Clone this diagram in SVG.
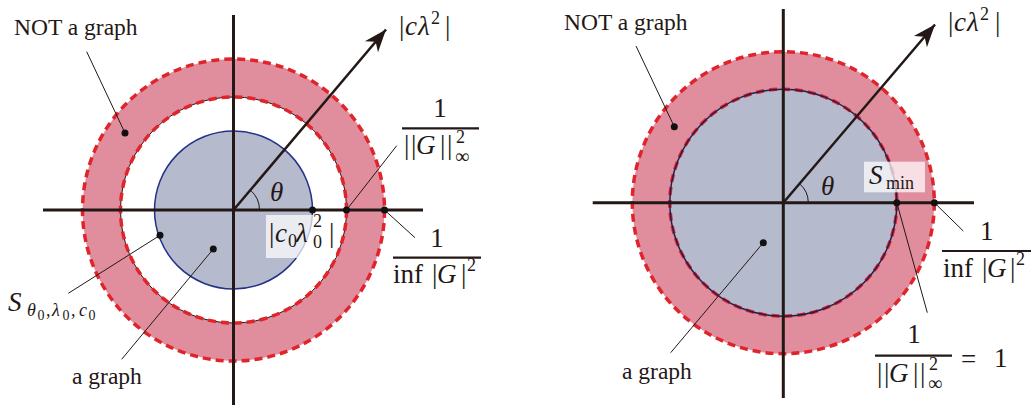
<svg xmlns="http://www.w3.org/2000/svg" width="1034" height="405" viewBox="0 0 1034 405">
<style>
.pink{fill:#e08d9d}
.blue{fill:#b5bacd}
.dash{fill:none;stroke:#e0242b;stroke-width:3.5;stroke-dasharray:8 5}
.axis{stroke:#231815;stroke-width:3}
.lead{stroke:#231815;stroke-width:1;fill:none}
.arrow{stroke:#231815;stroke-width:2.5;fill:none}
.dot{fill:#111}
.bar{stroke:#231815;stroke-width:2.2}
.box{fill:#ffffff;fill-opacity:0.72}
text{fill:#231815}
.lbl{font-size:23.5px}
.m{font-size:27px}
.i{font-style:italic}
.s{font-size:18px}
</style>
<defs>
<marker id="ah" markerUnits="userSpaceOnUse" markerWidth="30" markerHeight="30" viewBox="-24 -12 28 24" refX="0" refY="0" orient="auto">
<path d="M0,0 L-21,-8 L-15,0 L-21,8 Z" fill="#231815"/>
</marker>
</defs>

<!-- LEFT PANEL -->
<g id="left-regions">
<circle cx="233.5" cy="210" r="151" class="pink"/>
<circle cx="233.5" cy="210" r="113" fill="#ffffff" stroke="#231815" stroke-width="1"/>
<circle cx="233.5" cy="210" r="151" class="dash"/>
<circle cx="233.5" cy="210" r="113" class="dash"/>
<circle id="left-graph-disk" cx="233.5" cy="210" r="79" class="blue" stroke="#23318a" stroke-width="1.5"/>
</g>
<rect x="266" y="215" width="70" height="43" class="box"/>
<g id="left-axes">
<line x1="233.5" y1="15" x2="233.5" y2="405" class="axis"/>
<line x1="43" y1="210" x2="423" y2="210" class="axis"/>
<line x1="233.5" y1="210" x2="386" y2="29.5" class="arrow" marker-end="url(#ah)"/>
<path d="M259.5,210 A26,26 0 0 0 250.3,190.1" class="lead" stroke-width="1.5"/>
</g>
<g id="left-connectors">
<line x1="86.7" y1="51.7" x2="125" y2="133" class="lead"/>
<line x1="68.3" y1="293.3" x2="160" y2="235.3" class="lead"/>
<line x1="121.7" y1="359.3" x2="213.3" y2="249" class="lead"/>
<line x1="396.7" y1="145.7" x2="346.5" y2="210" class="lead"/>
<line x1="384.5" y1="210" x2="415" y2="237.7" class="lead"/>
</g>
<g id="left-dots">
<circle cx="125" cy="133" r="3.5" class="dot"/>
<circle cx="160" cy="235.3" r="3.5" class="dot"/>
<circle cx="213.3" cy="249" r="3.5" class="dot"/>
<circle cx="312.5" cy="210" r="3.5" class="dot"/>
<circle cx="346.5" cy="210" r="3.5" class="dot"/>
<circle cx="384.5" cy="210" r="3.5" class="dot"/>
</g>
<g font-family="'Liberation Serif', 'DejaVu Serif', serif">
<g id="left-labels">
<text class="lbl" x="14" y="35">NOT a graph</text>
<text class="lbl" x="72" y="384">a graph</text>
<text class="m"><tspan x="399" y="35">|</tspan><tspan class="i" x="405" y="35">c</tspan><tspan class="i" x="418" y="35">λ</tspan><tspan class="s" x="431" y="24">2</tspan><tspan x="445" y="35">|</tspan></text>
<text class="m i" x="270" y="201">θ</text>
<text class="m"><tspan x="269" y="242">|</tspan><tspan class="i" x="275" y="242">c</tspan><tspan class="s" x="288" y="247">0</tspan><tspan class="i" x="296" y="242">λ</tspan><tspan class="s" x="313" y="227">2</tspan><tspan class="s" x="313" y="248">0</tspan><tspan x="329" y="242">|</tspan></text>
<text class="m"><tspan class="i" x="8" y="311">S</tspan><tspan class="s i" x="27" y="316">θ</tspan><tspan font-size="14" x="37.5" y="320">0</tspan><tspan class="s" x="46" y="316">,</tspan><tspan class="s i" x="52" y="316">λ</tspan><tspan font-size="14" x="62.5" y="320">0</tspan><tspan class="s" x="71" y="316">,</tspan><tspan class="s i" x="79" y="316">c</tspan><tspan font-size="14" x="88.5" y="320">0</tspan></text>
<text class="m" x="440" y="117" text-anchor="middle">1</text>
<line x1="402" y1="128.3" x2="479" y2="128.3" class="bar"/>
<text class="m"><tspan x="404" y="154">|</tspan><tspan x="411" y="154">|</tspan><tspan class="i" x="416" y="154">G</tspan><tspan x="440" y="154">|</tspan><tspan x="447" y="154">|</tspan><tspan class="s" x="456" y="143">2</tspan><tspan font-size="20" x="455" y="163">∞</tspan></text>
<text class="m" x="437" y="246.5" text-anchor="middle">1</text>
<line x1="393" y1="257.7" x2="481" y2="257.7" class="bar"/>
<text class="m"><tspan x="393" y="283">inf</tspan><tspan x="432" y="283">|</tspan><tspan class="i" x="437" y="283">G</tspan><tspan x="461" y="283">|</tspan><tspan class="s" x="467" y="271">2</tspan></text>
</g>
</g>

<!-- RIGHT PANEL -->
<g id="right-regions">
<circle cx="783.3" cy="202.7" r="151" class="pink"/>
<circle cx="783.3" cy="202.7" r="151" class="dash"/>
<circle id="right-graph-disk" cx="783.3" cy="202.7" r="113.5" class="blue"/>
<circle cx="783.3" cy="202.7" r="113.5" class="dash"/>
<circle cx="783.3" cy="202.7" r="113.5" fill="none" stroke="#1c2150" stroke-width="1.5"/>
</g>
<rect x="864" y="161.7" width="61" height="30.6" class="box"/>
<g id="right-axes">
<line x1="783.3" y1="9" x2="783.3" y2="398" class="axis"/>
<line x1="592.7" y1="202.7" x2="974" y2="202.7" class="axis"/>
<line x1="783.3" y1="202.7" x2="935" y2="24.5" class="arrow" marker-end="url(#ah)"/>
<path d="M808.3,202.7 A25,25 0 0 0 799.4,183.6" class="lead" stroke-width="1.5"/>
</g>
<g id="right-connectors">
<line x1="636" y1="46" x2="674.3" y2="126.7" class="lead"/>
<line x1="670.7" y1="352.7" x2="763.3" y2="242.7" class="lead"/>
<line x1="934.3" y1="202.7" x2="963.3" y2="231" class="lead"/>
<line x1="896.8" y1="202.7" x2="927.3" y2="312.7" class="lead"/>
</g>
<g id="right-dots">
<circle cx="674.3" cy="126.7" r="3.5" class="dot"/>
<circle cx="763.3" cy="242.7" r="3.5" class="dot"/>
<circle cx="896.8" cy="202.7" r="3.5" class="dot"/>
<circle cx="934.3" cy="202.7" r="3.5" class="dot"/>
</g>
<g font-family="'Liberation Serif', 'DejaVu Serif', serif">
<g id="right-labels">
<text class="lbl" x="564" y="30">NOT a graph</text>
<text class="lbl" x="622" y="379">a graph</text>
<text class="m"><tspan x="948" y="31">|</tspan><tspan class="i" x="954" y="31">c</tspan><tspan class="i" x="967" y="31">λ</tspan><tspan class="s" x="980" y="20">2</tspan><tspan x="995" y="31">|</tspan></text>
<text class="m i" x="821" y="195">θ</text>
<text class="m"><tspan class="i" x="869" y="184">S</tspan><tspan class="s" x="886" y="189">min</tspan></text>
<text class="m" x="986.7" y="240" text-anchor="middle">1</text>
<line x1="942" y1="251" x2="1031" y2="251" class="bar"/>
<text class="m"><tspan x="943" y="276.7">inf</tspan><tspan x="982" y="276.7">|</tspan><tspan class="i" x="987" y="276.7">G</tspan><tspan x="1010" y="276.7">|</tspan><tspan class="s" x="1016" y="265">2</tspan></text>
<text class="m" x="914" y="343" text-anchor="middle">1</text>
<line x1="875" y1="355.7" x2="952" y2="355.7" class="bar"/>
<text class="m"><tspan x="877" y="381.5">|</tspan><tspan x="884" y="381.5">|</tspan><tspan class="i" x="889" y="381.5">G</tspan><tspan x="913" y="381.5">|</tspan><tspan x="920" y="381.5">|</tspan><tspan class="s" x="929" y="370">2</tspan><tspan font-size="20" x="928" y="390">∞</tspan></text>
<text class="m"><tspan x="961" y="368">=</tspan><tspan x="994" y="367">1</tspan></text>
</g>
</g>
</svg>
